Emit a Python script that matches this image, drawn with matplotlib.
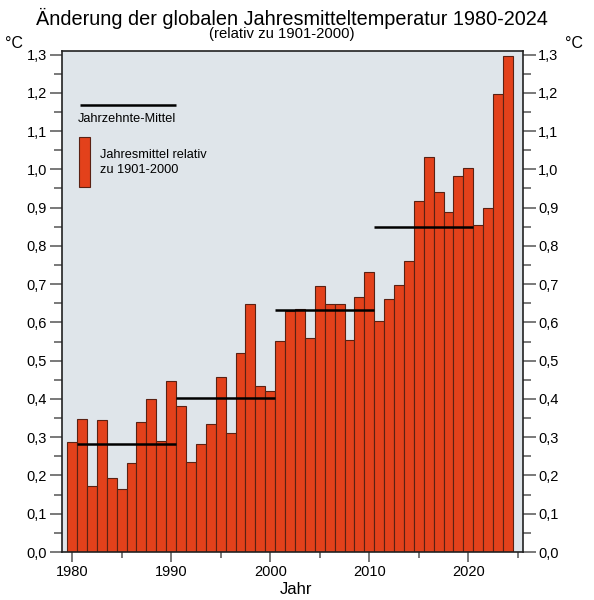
import numpy as np
import matplotlib
matplotlib.use('Agg')
import matplotlib.pyplot as plt
from matplotlib.ticker import MultipleLocator, FuncFormatter

plt.rcParams['font.family'] = ['Liberation Sans', 'DejaVu Sans']

# annual anomalies relative to 1901-2000 (degC)
years = list(range(1980, 2025))
anomaly = [0.287, 0.348, 0.172, 0.346, 0.193, 0.164, 0.232, 0.339, 0.399, 0.289,
           0.446, 0.382, 0.236, 0.282, 0.334, 0.458, 0.310, 0.520, 0.647, 0.434,
           0.420, 0.551, 0.630, 0.634, 0.558, 0.694, 0.647, 0.647, 0.553, 0.666,
           0.732, 0.604, 0.662, 0.697, 0.760, 0.917, 1.033, 0.941, 0.888, 0.983,
           1.003, 0.854, 0.900, 1.197, 1.296]

# decade means
decade_start = [1981, 1991, 2001, 2011]
decade_mean = [0.283, 0.402, 0.632, 0.848]

xticks = [1980, 1990, 2000, 2010, 2020]

W, H = 594, 600
fig = plt.figure(figsize=(W / 100, H / 100), dpi=100)
ax = fig.add_axes([61.7 / W, 48 / H, 461.6 / W, 501.3 / H])
ax.set_facecolor('#dfe5ea')

ax.bar(years, anomaly, width=1.0, color='#e3411b', edgecolor='#5a2113', linewidth=0.8, zorder=2)
for s, m in zip(decade_start, decade_mean):
    ax.plot([s - 0.5, s + 9.5], [m, m], color='black', lw=1.8, zorder=3, solid_capstyle='butt')

ax.set_xlim(1978.95, 2025.55)
ax.set_ylim(0, 1.31)

ax.xaxis.set_minor_locator(MultipleLocator(5))
ax.set_xticks(xticks)
ax.yaxis.set_major_locator(MultipleLocator(0.1))
ax.yaxis.set_minor_locator(MultipleLocator(0.05))
ax.yaxis.set_major_formatter(FuncFormatter(lambda v, p: ('%.1f' % v).replace('.', ',')))

ax.tick_params(axis='y', which='major', length=9, width=1.1, color='#555555', labelsize=10.5, pad=1.5,
               left=True, right=True, labelleft=True, labelright=True)
ax.tick_params(axis='y', which='minor', length=5.8, width=1.1, color='#555555', left=True, right=True)
ax.tick_params(axis='x', which='major', length=7.2, width=1.1, color='#555555', labelsize=10.5, pad=2.5)
ax.tick_params(axis='x', which='minor', length=4.3, width=1.1, color='#555555')

for sp in ax.spines.values():
    sp.set_linewidth(1.2)
    sp.set_color('#222222')
    sp.set_zorder(4)

# axis label, titles and units
fig.text(296 / W, 1 - 589 / H, 'Jahr', ha='center', va='center', fontsize=12)
fig.text(291.9 / W, 1 - 18 / H, 'Änderung der globalen Jahresmitteltemperatur 1980-2024',
         ha='center', va='center', fontsize=14.3)
fig.text(281.7 / W, 1 - 34 / H, '(relativ zu 1901-2000)', ha='center', va='center', fontsize=10.7)
fig.text(14.5 / W, 1 - 43 / H, '°C', ha='center', va='center', fontsize=11.5)
fig.text(573.7 / W, 1 - 43 / H, '°C', ha='center', va='center', fontsize=11.5)

# legend drawn by hand inside the plot
ax.plot([0.0396, 0.247], [0.8917, 0.8917], transform=ax.transAxes, color='black', lw=1.8,
        solid_capstyle='butt', zorder=3)
ax.text(0.0347, 0.863, 'Jahrzehnte-Mittel', transform=ax.transAxes, ha='left', va='center', fontsize=9.2)
ax.add_patch(plt.Rectangle((0.038, 0.7287), 0.0233, 0.0998, transform=ax.transAxes,
                           facecolor='#e3411b', edgecolor='#5a2113', linewidth=0.8, zorder=3))
ax.text(0.083, 0.7776, 'Jahresmittel relativ\nzu 1901-2000', transform=ax.transAxes,
        ha='left', va='center', fontsize=9.2, linespacing=1.3)

fig.savefig('out.png', dpi=100)
